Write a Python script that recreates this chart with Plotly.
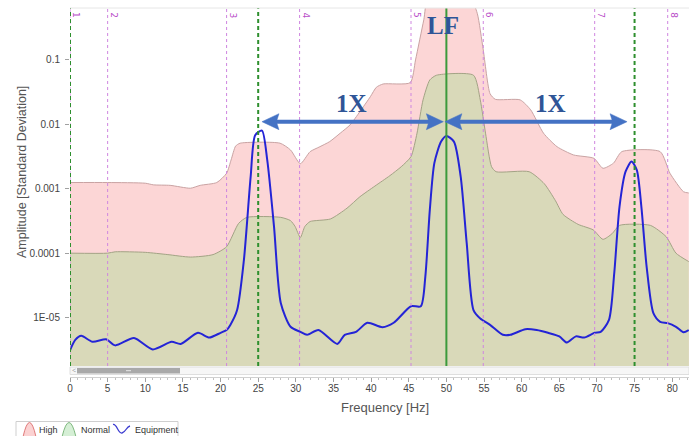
import plotly.graph_objects as go

# ---- spectrum data ----------------------------------------------------------
# alarm envelope "High" (upper band)
freq_high = [0, 5, 10, 11.1, 13.3, 16, 17.3, 19.5, 20.8, 21.4, 22.0, 22.6, 27.9,
             29.3, 30.6, 31.9, 33.2, 34.5, 35.9, 37.2, 38.5, 39.9, 40.7, 41.6,
             45.2, 45.9, 47.0, 47.6, 53.2, 54.1, 54.9, 55.8, 56.5, 59.8, 61.2,
             62.9, 64.7, 66.9, 69.6, 70.8, 72.2, 73.3, 78.4, 79.7, 81.5, 82.2]
high = [1.25e-3, 1.25e-3, 1.22e-3, 1.15e-3, 1.13e-3, 1.02e-3, 1.13e-3, 1.25e-3,
        1.74e-3, 2.8e-3, 4.6e-3, 5.1e-3, 5.1e-3, 4.0e-3, 2.45e-3, 3.77e-3,
        4.5e-3, 5.4e-3, 7.3e-3, 9.8e-3, 0.0157, 0.0269, 0.0377, 0.0424,
        0.0445, 0.1, 0.42, 0.9, 0.9, 0.53, 0.143, 0.030, 0.0245, 0.024, 0.0168,
        7.3e-3, 4.5e-3, 3.35e-3, 2.97e-3, 2.08e-3, 2.5e-3, 3.77e-3, 3.77e-3,
        1.74e-3, 9.0e-4, 8.6e-4]

# alarm envelope "Normal" (lower band)
freq_norm = [0, 5, 6, 10, 13, 16, 19, 20.8, 22.4, 23.5, 28.0, 29.3, 29.9, 30.6,
             31.2, 31.9, 34.6, 36.8, 38.5, 40.5, 42.5, 44.0, 45.3, 46.1, 46.9,
             47.8, 48.7, 53.6, 54.5, 55.2, 56.0, 56.6, 61.0, 63.0, 64.5, 65.5,
             67.5, 69.5, 70.8, 72.0, 73.0, 77.1, 79.2, 80.5, 82.2]
normal = [1.0e-4, 1.0e-4, 1.05e-4, 1.03e-4, 9.5e-5, 8.7e-5, 9.5e-5, 1.26e-4,
          2.9e-4, 3.6e-4, 3.6e-4, 3.2e-4, 2.6e-4, 1.75e-4, 2.6e-4, 3.1e-4,
          3.4e-4, 5.0e-4, 7.5e-4, 1.1e-3, 1.6e-3, 2.2e-3, 3.15e-3, 7.3e-3,
          0.024, 0.049, 0.058, 0.058, 0.024, 7.3e-3, 2.2e-3, 1.84e-3, 1.84e-3,
          1.2e-3, 6.5e-4, 4.0e-4, 2.8e-4, 2.3e-4, 1.64e-4, 2.0e-4, 2.7e-4,
          2.7e-4, 1.8e-4, 1.0e-4, 7.4e-5]

# measured equipment spectrum
freq_eq = [0, 0.7, 1.5, 3, 4.8, 6, 8.5, 11, 13.5, 14.7, 17, 18.5, 20, 20.8, 21.3,
           22.2, 23.1, 24.0, 24.6, 25.5, 26.2, 27.1, 28.0, 29.3, 30.6, 31.5, 33,
           35.5, 36.5, 38, 39.5, 41.5, 43, 45.3, 46.6, 47.2, 47.8, 48.4, 49.3,
           50.0, 51.0, 51.9, 52.7, 53.6, 54.5, 55.8, 57.5, 58.5, 60.5, 62, 63.5,
           65, 66, 67.2, 68.3, 69.7, 70.5, 71.6, 72.3, 73.0, 73.8, 74.6, 75.3,
           75.9, 76.6, 77.5, 78.4, 79.4, 80.5, 81.5, 82.2]
equipment = [3.1e-6, 4.5e-6, 5.2e-6, 4.2e-6, 4.6e-6, 3.7e-6, 4.8e-6, 3.2e-6,
             4.2e-6, 3.9e-6, 5.8e-6, 4.9e-6, 5.8e-6, 6.4e-6, 7.7e-6, 1.31e-5,
             7.8e-5, 1.54e-3, 6.8e-3, 8.0e-3, 2.8e-3, 2.6e-4, 1.69e-5, 7.2e-6,
             6.0e-6, 5.4e-6, 6.4e-6, 3.9e-6, 5.4e-6, 6.0e-6, 8.3e-6, 7.1e-6,
             8.3e-6, 1.5e-5, 1.5e-5, 4.3e-5, 4.7e-4, 2.5e-3, 5.4e-3, 6.6e-3,
             5.4e-3, 1.54e-3, 1.43e-4, 1.31e-5, 9.7e-6, 7.7e-6, 5.4e-6, 5.4e-6,
             6.6e-6, 6.4e-6, 5.8e-6, 5.1e-6, 4.1e-6, 5.1e-6, 4.9e-6, 5.8e-6,
             6.0e-6, 9.2e-6, 4.9e-5, 5.3e-4, 1.84e-3, 2.64e-3, 1.95e-3, 5.3e-4,
             6.2e-5, 1.17e-5, 8.6e-6, 8.2e-6, 7.2e-6, 5.9e-6, 6.4e-6]

# band boundaries (numbered markers) and harmonic markers
band_freqs = [0, 5, 20.8, 30.5, 45.3, 54.9, 69.7, 79.4]
band_labels = ["1", "2", "3", "4", "5", "6", "7", "8"]
harmonic_dashed = [0, 25, 75]
line_freq = 50

y_tickvals = [1e-5, 1e-4, 1e-3, 1e-2, 1e-1]
y_ticktext = ["1E-05", "0.0001", "0.001", "0.01", "0.1"]
x_tickvals = list(range(0, 81, 5))

# ---- page geometry ----------------------------------------------------------
W, H = 689, 436
ML, MR, MT, MB = 70, 0, 8, 59
X_MAX = 82.23
Y_RANGE = [-5.752, -0.193]


def px(x):
    return (x - ML) / (W - ML - MR)


def py(y):
    return (H - MB - y) / (H - MT - MB)


Y_DOM0 = py(366)
FLOOR = 1e-7

HIGH_FILL = "#fcd6d6"
HIGH_LINE = "#c9a3a3"
NORM_FILL = "#d9d9b9"
NORM_LINE = "#a3a385"
EQ_BLUE = "#2424d6"
MAGENTA = "#cf86e0"
GREEN = "#2e8f2e"
ARROW = "#4472C4"
TXT_BLUE = "#2F5597"

fig = go.Figure()

# High band, filled down to the axis floor
fig.add_trace(go.Scatter(x=[0, X_MAX], y=[FLOOR, FLOOR], mode="lines",
                         line=dict(width=0), hoverinfo="skip", showlegend=False))
fig.add_trace(go.Scatter(x=freq_high, y=high, mode="lines", name="High",
                         line=dict(color=HIGH_LINE, width=1, shape="spline", smoothing=0.6),
                         fill="tonexty", fillcolor=HIGH_FILL, showlegend=False))
# Normal band
fig.add_trace(go.Scatter(x=[0, X_MAX], y=[FLOOR, FLOOR], mode="lines",
                         line=dict(width=0), hoverinfo="skip", showlegend=False))
fig.add_trace(go.Scatter(x=freq_norm, y=normal, mode="lines", name="Normal",
                         line=dict(color=NORM_LINE, width=1, shape="spline", smoothing=0.6),
                         fill="tonexty", fillcolor=NORM_FILL, showlegend=False))
# Equipment spectrum
fig.add_trace(go.Scatter(x=freq_eq, y=equipment, mode="lines", name="Equipment",
                         line=dict(color=EQ_BLUE, width=2, shape="spline", smoothing=0.7),
                         showlegend=False))

shapes = []
annotations = []


def note(**kw):
    kw.setdefault("showarrow", False)
    kw.setdefault("xanchor", "center")
    kw.setdefault("yanchor", "middle")
    annotations.append(kw)


# numbered band markers
for f, lab in zip(band_freqs, band_labels):
    shapes.append(dict(type="line", xref="x", yref="y domain", x0=f, x1=f, y0=0, y1=1,
                       line=dict(color=MAGENTA, width=1, dash="dot"), layer="above"))
    note(x=f, y=py(15), xref="x", yref="paper", text=lab, textangle=90, xshift=6,
         font=dict(size=9, color="#b84cc8", family="DejaVu Sans"))

# harmonic markers
for f in harmonic_dashed:
    shapes.append(dict(type="line", xref="x", yref="y domain", x0=f, x1=f, y0=0, y1=1,
                       line=dict(color=GREEN, width=2, dash="4px,3px"), layer="above"))
shapes.append(dict(type="line", xref="x", yref="y domain", x0=line_freq, x1=line_freq,
                   y0=0, y1=1, line=dict(color="#3c9a3c", width=2), layer="above"))

# top border of the plot area
shapes.append(dict(type="line", xref="paper", yref="y domain", x0=0, x1=1, y0=1, y1=1,
                   line=dict(color="#e6e6e6", width=1)))

# double-headed spacing arrows
ARROW_Y = py(121.7)
HEAD_L = 17 / 7.527
HEAD_H = 8 / (H - MT - MB)
for a, b in [(25.5, 49.6), (49.8, 74.0)]:
    shapes.append(dict(type="line", xref="x", yref="paper", x0=a + HEAD_L * 0.8,
                       x1=b - HEAD_L * 0.8, y0=ARROW_Y, y1=ARROW_Y,
                       line=dict(color=ARROW, width=4), layer="above"))
    for tip, d in [(a, 1), (b, -1)]:
        base = tip + d * HEAD_L
        notch = tip + d * HEAD_L * 0.85
        path = (f"M {tip},{ARROW_Y} L {base},{ARROW_Y + HEAD_H} "
                f"L {notch},{ARROW_Y} L {base},{ARROW_Y - HEAD_H} Z")
        shapes.append(dict(type="path", xref="x", yref="paper", path=path,
                           fillcolor=ARROW, line=dict(color=ARROW, width=0.5), layer="above"))

big_font = dict(family="Liberation Serif", size=25, color=TXT_BLUE)
note(x=37.4, y=py(104), xref="x", yref="paper", text="<b>1X</b>", font=big_font)
note(x=63.8, y=py(104), xref="x", yref="paper", text="<b>1X</b>", font=big_font)
note(x=49.6, y=py(25), xref="x", yref="paper", text="<b>LF</b>", font=big_font)

# axis titles
note(x=px(385), y=py(407), xref="paper", yref="paper", text="Frequency [Hz]",
     font=dict(size=13, color="#555555", family="Liberation Sans"))
note(x=px(22), y=py(172), xref="paper", yref="paper",
     text="Amplitude [Standard Deviation]", textangle=-90,
     font=dict(size=12.5, color="#555555", family="Liberation Sans"))

# horizontal scroll bar under the plot
shapes.append(dict(type="rect", xref="paper", yref="paper", x0=px(70), x1=px(689),
                   y0=py(374.5), y1=py(367), fillcolor="#f6f6f6",
                   line=dict(color="#dedede", width=1)))
shapes.append(dict(type="rect", xref="paper", yref="paper", x0=px(77), x1=px(180),
                   y0=py(373.5), y1=py(368), fillcolor="#a9a9a9", line=dict(width=0)))
shapes.append(dict(type="line", xref="paper", yref="paper", x0=px(126), x1=px(131),
                   y0=py(370.7), y1=py(370.7), line=dict(color="#e8e8e8", width=1)))
note(x=px(73.5), y=py(370.7), xref="paper", yref="paper", text="<",
     font=dict(size=7, color="#999999"))

# legend box with hump / wave glyphs
shapes.append(dict(type="rect", xref="paper", yref="paper", x0=px(16), x1=px(178),
                   y0=py(437), y1=py(421.5), fillcolor="white",
                   line=dict(color="#cfcfcf", width=1)))


def hump(x0, x1, top, bottom):
    xm = (x0 + x1) / 2
    return (f"M {px(x0)},{py(bottom)} Q {px(xm)},{py(2 * top - bottom)} "
            f"{px(x1)},{py(bottom)} Z")


shapes.append(dict(type="path", xref="paper", yref="paper", path=hump(23, 36, 422.5, 437),
                   fillcolor="#fbd2d2", line=dict(color="#e07a7a", width=1)))
shapes.append(dict(type="path", xref="paper", yref="paper", path=hump(62, 76, 422.5, 437),
                   fillcolor="#d5efd5", line=dict(color="#7fb87f", width=1)))
wave = (f"M {px(113)},{py(424.5)} C {px(117)},{py(423.5)} {px(118)},{py(434)} {px(122)},{py(433)} "
        f"C {px(126)},{py(432)} {px(126)},{py(427)} {px(130)},{py(426)}")
shapes.append(dict(type="path", xref="paper", yref="paper", path=wave,
                   line=dict(color="#3b3bd0", width=1.3)))
leg_font = dict(size=9, color="#333333", family="Liberation Sans")
for xc, t in [(37, "High"), (79, "Normal"), (133, "Equipment")]:
    note(x=px(xc), y=py(429.5), xref="paper", yref="paper", text=t, xanchor="left",
         font=leg_font)

fig.update_layout(
    width=W, height=H,
    margin=dict(l=ML, r=MR, t=MT, b=MB, pad=0),
    paper_bgcolor="white", plot_bgcolor="white",
    showlegend=False,
    shapes=shapes, annotations=annotations,
    xaxis=dict(range=[0, X_MAX], anchor="free", position=0,
               tickvals=x_tickvals, ticks="outside", ticklen=4, tickcolor="#a0a0a0",
               minor=dict(dtick=1, ticks="outside", ticklen=2, tickcolor="#c0c0c0"),
               showline=True, linecolor="#d0d0d0", linewidth=1,
               showgrid=False, zeroline=False, ticklabelstandoff=-2,
               tickfont=dict(size=10, color="#444444", family="Liberation Sans")),
    yaxis=dict(type="log", range=Y_RANGE, domain=[Y_DOM0, 1],
               tickvals=y_tickvals, ticktext=y_ticktext,
               ticks="outside", ticklen=4, tickcolor="#a0a0a0",
               showgrid=False, zeroline=False, showline=False, ticklabelstandoff=3,
               tickfont=dict(size=10, color="#444444", family="Liberation Sans")),
)

fig.write_html("out.html")
